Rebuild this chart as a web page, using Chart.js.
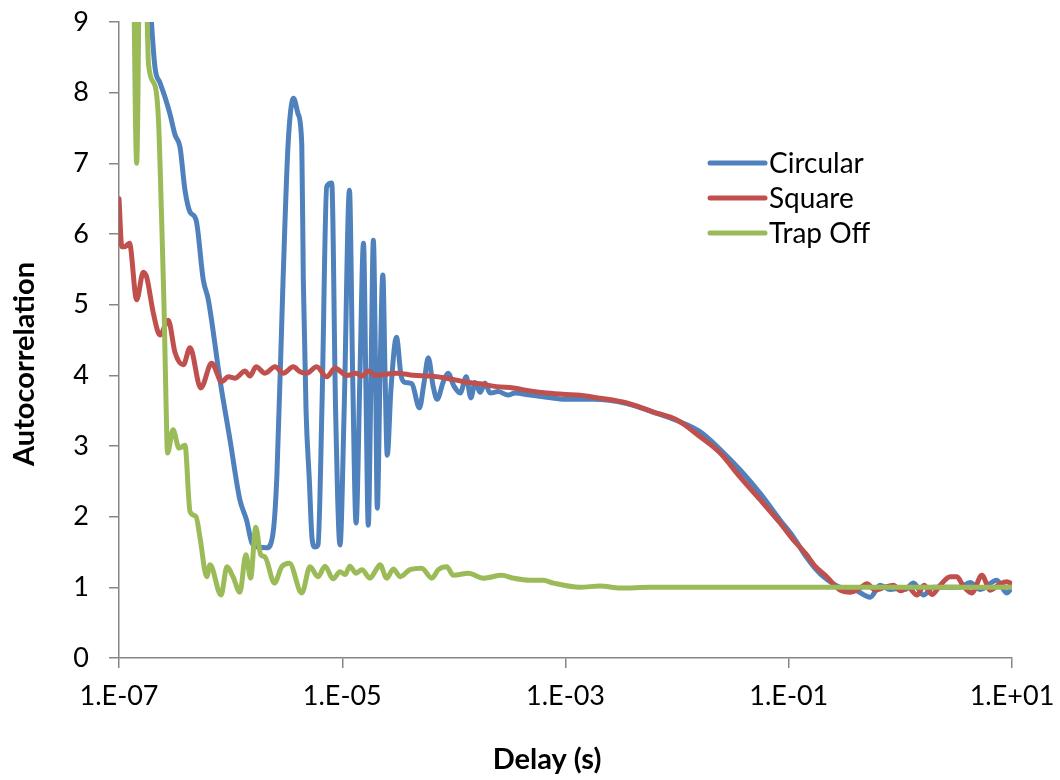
<!DOCTYPE html>
<html lang="en">
<head>
  <meta charset="UTF-8" />
  <title>Autocorrelation vs Delay</title>
  <script src="https://cdn.jsdelivr.net/npm/chart.js"></script>
  <style>
    body { margin: 0; background: #fff; }
    #wrap { width: 1060px; height: 780px; }
  </style>
</head>
<body>
  <div id="wrap"><canvas id="acfChart" width="1060" height="780"></canvas></div>

  <script>
    // delay (s) on a log axis, every second decade labelled
    const xTicks = [1e-7, 1e-5, 1e-3, 1e-1, 1e1];

    const circularDelay = [1.54e-7, 1.90e-7, 2.10e-7, 2.33e-7, 2.58e-7, 2.86e-7, 3.18e-7, 3.52e-7, 3.90e-7, 4.33e-7,
      4.90e-7, 5.69e-7, 6.31e-7, 8.04e-7, 9.89e-7, 1.21e-6, 1.39e-6, 1.55e-6, 1.76e-6, 2.11e-6,
      2.40e-6, 2.60e-6, 2.95e-6, 3.27e-6, 3.66e-6, 4.02e-6, 4.34e-6, 4.48e-6, 4.74e-6, 5.07e-6,
      5.36e-6, 5.70e-6, 6.07e-6, 6.59e-6, 7.26e-6, 8.05e-6, 8.72e-6, 9.55e-6, 1.04e-5, 1.16e-5,
      1.24e-5, 1.33e-5, 1.44e-5, 1.55e-5, 1.63e-5, 1.71e-5, 1.81e-5, 1.90e-5, 1.99e-5, 2.06e-5,
      2.18e-5, 2.31e-5, 2.42e-5, 2.53e-5, 2.73e-5, 3.06e-5, 3.36e-5, 3.65e-5, 4.20e-5, 4.91e-5,
      5.41e-5, 5.90e-5, 6.51e-5, 7.08e-5, 8.00e-5, 8.87e-5, 1.00e-4, 1.14e-4, 1.29e-4, 1.42e-4,
      1.55e-4, 1.72e-4, 1.90e-4, 2.11e-4, 2.49e-4, 3.06e-4, 3.54e-4, 4.81e-4, 6.79e-4, 1.00e-3,
      1.35e-3, 1.77e-3, 3.54e-3, 6.10e-3, 9.94e-3, 1.61e-2, 2.43e-2, 3.67e-2, 5.54e-2, 8.37e-2,
      1.09e-1, 1.45e-1, 1.72e-1, 2.12e-1, 2.89e-1, 3.94e-1, 5.36e-1, 6.59e-1, 8.10e-1, 1.00,
      1.10, 1.31, 1.61, 1.97, 2.61, 3.43, 4.21, 5.19, 7.31, 8.97, 10];
    const circularValue = [12, 9.3, 8.36, 8.14, 7.94, 7.7, 7.4, 7.23, 6.62, 6.31,
      6.2, 5.35, 5.07, 3.93, 3.08, 2.24, 1.95, 1.63, 1.57, 1.56,
      1.77, 2.6, 5.35, 7.26, 7.92, 7.7, 7.26, 5.35, 3.5, 2.52,
      1.7, 1.57, 1.6, 3.6, 6.67, 6.72, 3.5, 1.6, 3.5, 6.62,
      4.0, 1.91, 4.0, 5.87, 3.8, 1.88, 4.0, 5.91, 4.0, 2.12,
      4.0, 5.42, 4.0, 2.87, 3.8, 4.54, 4.0, 3.9, 3.88, 3.54,
      3.9, 4.25, 3.85, 3.66, 3.9, 4.03, 3.85, 3.75, 3.98, 3.68,
      3.9, 3.76, 3.89, 3.75, 3.77, 3.72, 3.75, 3.72, 3.69, 3.66,
      3.66, 3.66, 3.6, 3.48, 3.36, 3.2, 2.95, 2.66, 2.33, 1.95,
      1.72, 1.42, 1.27, 1.13, 1.0, 0.96, 0.86, 1.03, 0.97, 0.99,
      0.97, 1.06, 0.89, 1.0, 1.0, 1.0, 1.07, 0.97, 1.1, 0.92, 1.0];

    const squareDelay = [1.00e-7, 1.06e-7, 1.13e-7, 1.24e-7, 1.44e-7, 1.65e-7, 1.77e-7, 2.03e-7, 2.33e-7, 2.76e-7,
      3.18e-7, 3.77e-7, 4.33e-7, 5.40e-7, 6.76e-7, 8.32e-7, 9.53e-7, 1.09e-6, 1.35e-6, 1.49e-6,
      1.69e-6, 2.03e-6, 2.50e-6, 2.97e-6, 3.64e-6, 4.19e-6, 4.81e-6, 5.90e-6, 7.26e-6, 8.62e-6,
      1.10e-5, 1.33e-5, 1.50e-5, 1.71e-5, 1.97e-5, 3.08e-5, 4.34e-5, 6.12e-5, 8.64e-5, 1.22e-4,
      1.72e-4, 2.42e-4, 3.41e-4, 4.81e-4, 6.79e-4, 1.00e-3, 1.35e-3, 1.78e-3, 3.54e-3, 6.13e-3,
      9.94e-3, 1.61e-2, 2.43e-2, 3.67e-2, 5.54e-2, 8.37e-2, 1.10e-1, 1.43e-1, 1.72e-1, 2.19e-1,
      2.89e-1, 3.55e-1, 4.35e-1, 5.01e-1, 5.94e-1, 7.15e-1, 8.68e-1, 1.00, 1.17, 1.41,
      1.63, 1.92, 2.27, 2.80, 3.21, 3.65, 4.37, 5.37, 6.38, 7.84, 8.97, 10];
    const squareValue = [6.5, 5.82, 5.82, 5.87, 5.07, 5.46, 5.39, 4.88, 4.57, 4.78,
      4.32, 4.15, 4.39, 3.82, 4.17, 3.91, 3.98, 3.96, 4.06, 3.99,
      4.12, 4.03, 4.12, 4.03, 4.12, 4.05, 4.03, 4.12, 3.98, 4.1,
      4.0, 4.03, 3.99, 4.06, 4.0, 4.03, 4.0, 3.99, 3.96, 3.91,
      3.88, 3.84, 3.82, 3.78, 3.75, 3.73, 3.72, 3.69, 3.61, 3.48,
      3.37, 3.13, 2.9, 2.56, 2.24, 1.91, 1.67, 1.47, 1.3, 1.15,
      0.96, 0.93, 0.99, 1.05, 0.96, 1.0, 1.03, 0.95, 1.0, 0.89,
      1.03, 0.9, 1.03, 1.15, 1.15, 1.02, 0.92, 1.17, 0.96, 1.05, 1.08, 1.05];

    const trapOffDelay = [1.00e-7, 1.20e-7, 1.33e-7, 1.44e-7, 1.54e-7, 1.67e-7, 1.78e-7, 1.84e-7, 2.10e-7, 2.26e-7,
      2.40e-7, 2.53e-7, 2.64e-7, 2.72e-7, 3.05e-7, 3.45e-7, 3.90e-7, 4.33e-7, 4.90e-7, 5.32e-7,
      6.11e-7, 6.54e-7, 8.20e-7, 9.28e-7, 1.05e-6, 1.21e-6, 1.37e-6, 1.51e-6, 1.68e-6, 1.86e-6,
      2.03e-6, 2.47e-6, 2.87e-6, 3.36e-6, 4.34e-6, 5.14e-6, 6.07e-6, 7.01e-6, 8.27e-6, 9.55e-6,
      1.06e-5, 1.17e-5, 1.33e-5, 1.50e-5, 1.77e-5, 2.01e-5, 2.18e-5, 2.50e-5, 2.87e-5, 3.30e-5,
      4.05e-5, 5.15e-5, 6.34e-5, 7.26e-5, 8.64e-5, 9.90e-5, 1.35e-4, 1.84e-4, 2.69e-4, 3.41e-4,
      4.81e-4, 6.34e-4, 7.79e-4, 1.35e-3, 2.04e-3, 3.08e-3, 5.73e-3, 1.0e-2, 3.0e-2, 1.0e-1, 1.0, 10];
    const trapOffValue = [16, 13, 10.5, 7.0, 10.5, 12, 9.2, 8.4, 8.1, 7.6,
      6.3, 5.0, 3.6, 2.9, 3.23, 2.97, 3.01, 2.07, 2.0, 1.7,
      1.15, 1.32, 0.89, 1.29, 1.15, 0.93, 1.46, 1.13, 1.85, 1.46,
      1.43, 1.06, 1.29, 1.34, 0.92, 1.29, 1.15, 1.3, 1.12, 1.22,
      1.18, 1.3, 1.2, 1.25, 1.13, 1.25, 1.32, 1.13, 1.26, 1.15,
      1.25, 1.27, 1.13, 1.25, 1.29, 1.17, 1.2, 1.13, 1.17, 1.13,
      1.1, 1.1, 1.06, 1.0, 1.02, 0.99, 1.0, 1.0, 1.0, 1.0, 1.0, 1.0];

    const pairs = (xs, ys) => xs.map((x, i) => ({ x, y: ys[i] }));

    // Excel-style "1.E-07"
    function sciLabel(v) {
      const e = Math.round(Math.log10(v));
      return '1.E' + (e < 0 ? '-' : '+') + String(Math.abs(e)).padStart(2, '0');
    }

    // legend sits inside the plot area, drawn from the datasets
    const legendInside = {
      id: 'legendInside',
      afterDatasetsDraw(chart, args, opts) {
        const ctx = chart.ctx;
        ctx.save();
        ctx.font = opts.font;
        ctx.textBaseline = 'middle';
        chart.data.datasets.forEach((ds, i) => {
          const y = opts.y + i * opts.rowGap;
          ctx.strokeStyle = ds.borderColor;
          ctx.lineWidth = ds.borderWidth;
          ctx.lineCap = 'round';
          ctx.beginPath();
          ctx.moveTo(opts.x, y);
          ctx.lineTo(opts.x + opts.lineLen, y);
          ctx.stroke();
          ctx.fillStyle = '#000';
          ctx.fillText(ds.label, opts.x + opts.lineLen + opts.gap, y + 1);
        });
        ctx.restore();
      }
    };

    // axis titles placed like Excel does (centred on the whole chart, not the axis)
    const axisTitles = {
      id: 'axisTitles',
      afterDraw(chart, args, opts) {
        const ctx = chart.ctx;
        ctx.save();
        ctx.font = opts.font;
        ctx.fillStyle = '#000';
        ctx.textAlign = 'center';
        ctx.textBaseline = 'middle';
        ctx.fillText(opts.xText, opts.xPos[0], opts.xPos[1]);
        ctx.translate(opts.yPos[0], opts.yPos[1]);
        ctx.rotate(-Math.PI / 2);
        ctx.fillText(opts.yText, 0, 0);
        ctx.restore();
      }
    };

    const axisGrey = '#868686';
    const tickFont = { family: 'Lato', size: 27 };
    const lineStyle = { pointRadius: 0, borderWidth: 5, cubicInterpolationMode: 'monotone',
      borderJoinStyle: 'round', borderCapStyle: 'round', fill: false };

    new Chart(document.getElementById('acfChart'), {
      type: 'line',
      data: {
        datasets: [
          { label: 'Circular', data: pairs(circularDelay, circularValue), borderColor: '#4F81BD', order: 3, ...lineStyle },
          { label: 'Square', data: pairs(squareDelay, squareValue), borderColor: '#C0504D', order: 2, ...lineStyle },
          { label: 'Trap Off', data: pairs(trapOffDelay, trapOffValue), borderColor: '#9BBB59', order: 1, ...lineStyle }
        ]
      },
      options: {
        responsive: false,
        animation: false,
        layout: { padding: { top: 22, right: 48, left: 0, bottom: 0 } },
        plugins: {
          legend: { display: false },
          tooltip: { enabled: false },
          legendInside: { x: 710, y: 163, rowGap: 35, lineLen: 55, gap: 4, font: '28px Lato' },
          axisTitles: { font: 'bold 29px Lato', xText: 'Delay (s)', xPos: [547, 760],
                        yText: 'Autocorrelation', yPos: [25, 364] }
        },
        scales: {
          x: {
            type: 'logarithmic',
            min: 1e-7,
            max: 10,
            afterBuildTicks: s => { s.ticks = xTicks.map(v => ({ value: v })); },
            afterFit: s => { s.height = 122; s.paddingLeft = 0; s.paddingRight = 0; },
            ticks: { autoSkip: false, maxRotation: 0, color: '#000', font: tickFont, padding: 12, callback: v => sciLabel(v) },
            grid: { display: true, drawOnChartArea: false, drawTicks: true, tickLength: 10, color: axisGrey, lineWidth: 1.5 },
            border: { display: true, color: axisGrey, width: 1.5 }
          },
          y: {
            min: 0,
            max: 9,
            afterFit: s => { s.width = 119; s.paddingTop = 0; s.paddingBottom = 0; },
            ticks: { stepSize: 1, color: '#000', font: tickFont, padding: 20 },
            grid: { display: true, drawOnChartArea: false, drawTicks: true, tickLength: 10, color: axisGrey, lineWidth: 1.5 },
            border: { display: true, color: axisGrey, width: 1.5 }
          }
        }
      },
      plugins: [legendInside, axisTitles]
    });
  </script>
</body>
</html>
